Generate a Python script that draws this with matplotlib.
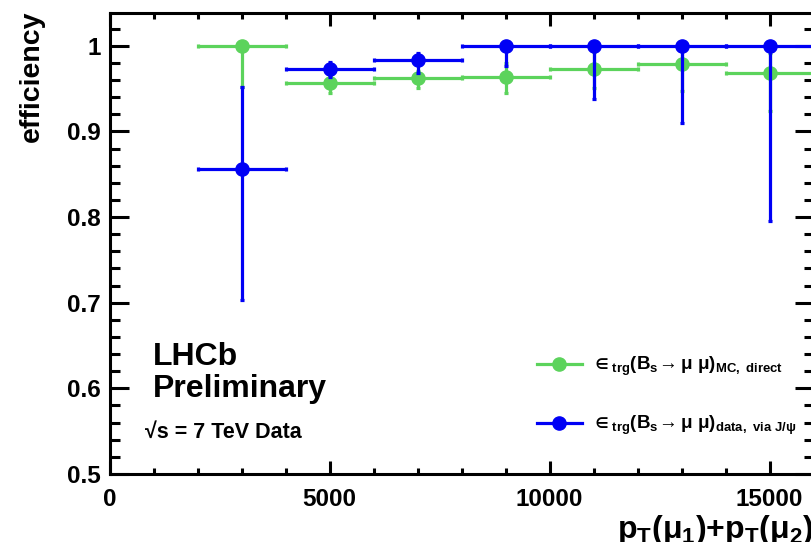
import matplotlib
matplotlib.use("Agg")
import matplotlib.pyplot as plt
from matplotlib.ticker import MultipleLocator, FixedLocator
from matplotlib.lines import Line2D
import numpy as np

plt.rcParams['font.family'] = ['Liberation Sans', 'DejaVu Sans']
plt.rcParams['font.weight'] = 'bold'
plt.rcParams['mathtext.fontset'] = 'custom'
plt.rcParams['mathtext.rm'] = 'Liberation Sans:bold'
plt.rcParams['mathtext.bf'] = 'Liberation Sans:bold'
plt.rcParams['mathtext.it'] = 'Liberation Sans:bold'
plt.rcParams['mathtext.sf'] = 'Liberation Sans'
plt.rcParams['mathtext.fallback'] = 'stixsans'

# ---- data ----
bin_centers = [3000, 5000, 7000, 9000, 11000, 13000, 15000]
bin_half_width = [1000, 1000, 1000, 1000, 1000, 1000, 1000]

mc_eff = [1.000, 0.957, 0.963, 0.964, 0.973, 0.979, 0.968]
mc_err_low = [0.048, 0.012, 0.012, 0.019, 0.022, 0.032, 0.044]
mc_err_high = [0.000, 0.008, 0.008, 0.016, 0.020, 0.015, 0.024]

data_eff = [0.856, 0.973, 0.984, 1.000, 1.000, 1.000, 1.000]
data_err_low = [0.153, 0.009, 0.016, 0.024, 0.062, 0.090, 0.205]
data_err_high = [0.096, 0.008, 0.008, 0.000, 0.000, 0.000, 0.000]

green = '#5cd35c'
blue = '#0000f5'

fig = plt.figure(figsize=(8.11, 5.42), dpi=100)
ax = fig.add_axes([109.5/811, 68/542, 704/811, 460.7/542])

common = dict(fmt='o', markersize=9.5, elinewidth=2.3, capsize=1.6, capthick=2.3)
ax.errorbar(bin_centers, mc_eff, xerr=bin_half_width, yerr=[mc_err_low, mc_err_high],
            color=green, ecolor=green, zorder=3, **common)
ax.errorbar(bin_centers, data_eff, xerr=bin_half_width, yerr=[data_err_low, data_err_high],
            color=blue, ecolor=blue, zorder=4, **common)

ax.set_xlim(0, 16000)
ax.set_ylim(0.5, 1.038)

ax.xaxis.set_major_locator(FixedLocator([0, 5000, 10000, 15000]))
ax.xaxis.set_minor_locator(MultipleLocator(1000))
ax.yaxis.set_major_locator(FixedLocator([0.5, 0.6, 0.7, 0.8, 0.9, 1.0]))
ax.yaxis.set_minor_locator(MultipleLocator(0.02))
ax.set_yticklabels(['0.5', '0.6', '0.7', '0.8', '0.9', '1'])

ax.tick_params(which='both', direction='in', top=True, right=True, width=2.2, labelsize=17.5)
ax.tick_params(axis='x', which='major', length=9.5, pad=10)
ax.tick_params(axis='x', which='minor', length=4.5)
ax.tick_params(axis='y', which='major', length=14, pad=6)
ax.tick_params(axis='y', which='minor', length=7)
for lab in ax.get_xticklabels() + ax.get_yticklabels():
    lab.set_fontweight('bold')
for sp in ax.spines.values():
    sp.set_linewidth(2.2)

ax.set_ylabel('efficiency', fontsize=20.5, fontweight='bold', loc='top')
ax.yaxis.set_label_coords(-0.092, 1.007)
ax.set_xlabel(r'$\mathbf{p}_\mathbf{T}(\mathsf{μ}_\mathbf{1})\mathbf{+p}_\mathbf{T}(\mathsf{μ}_\mathbf{2})$',
              fontsize=23, loc='right')
ax.xaxis.set_label_coords(1.0, -0.085)

ax.text(0.061, 0.237, 'LHCb', transform=ax.transAxes, fontsize=23, fontweight='bold', ha='left', va='baseline')
ax.text(0.061, 0.167, 'Preliminary', transform=ax.transAxes, fontsize=23, fontweight='bold', ha='left', va='baseline')
ax.text(0.050, 0.078, '√s = 7 TeV Data', transform=ax.transAxes, fontsize=15.5, fontweight='bold', ha='left', va='baseline')

h1 = Line2D([], [], color=green, marker='o', markersize=9.5, linewidth=2.3)
h2 = Line2D([], [], color=blue, marker='o', markersize=9.5, linewidth=2.3)
lab1 = r'$\in_{\mathbf{trg}}(\mathbf{B}_{\mathbf{s}}\!\rightarrow \mathsf{μ}\ \mathsf{μ})_{\mathbf{MC,\ direct}}$'
lab2 = r'$\in_{\mathbf{trg}}(\mathbf{B}_{\mathbf{s}}\!\rightarrow \mathsf{μ}\ \mathsf{μ})_{\mathbf{data,\ via\ J/}\mathsf{ψ}}$'
leg = ax.legend([h1, h2], [lab1, lab2], loc='upper left', bbox_to_anchor=(0.607, 0.258),
                frameon=False, fontsize=13.5, handlelength=2.4, handletextpad=0.5,
                labelspacing=1.9, borderaxespad=0, borderpad=0)

fig.savefig('out.png', dpi=100)
